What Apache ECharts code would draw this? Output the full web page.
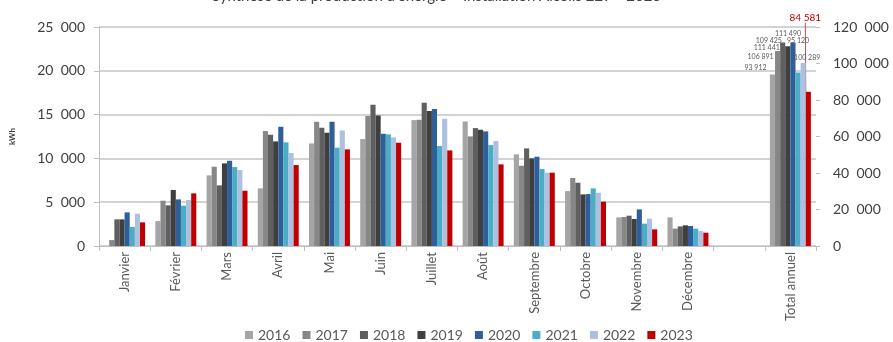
<!DOCTYPE html>
<html>
<head>
<meta charset="utf-8">
<script src="https://cdn.jsdelivr.net/npm/echarts@6/dist/echarts.min.js"></script>
<style>
  html, body { margin: 0; padding: 0; background: #ffffff; }
  #chart { width: 893px; height: 342px; }
</style>
</head>
<body>
<div id="chart"></div>
<script>
// Monthly production (kWh) per year, plus annual totals on the secondary axis
const categories = ['Janvier', 'Février', 'Mars', 'Avril', 'Mai', 'Juin', 'Juillet', 'Août',
  'Septembre', 'Octobre', 'Novembre', 'Décembre', '', 'Total annuel'];
const years = ['2016', '2017', '2018', '2019', '2020', '2021', '2022', '2023'];

const prod2016 = [null, 2850, 8060, 6580, 11710, 12210, 14370, 14220, 10460, 6270, 3270, 3270];
const prod2017 = [680, 5170, 9050, 13120, 14180, 14830, 14410, 12510, 9160, 7760, 3310, 1980];
const prod2018 = [3040, 4640, 6920, 12700, 13500, 16120, 16350, 13460, 11140, 7220, 3460, 2240];
const prod2019 = [3040, 6390, 9430, 11940, 12930, 14900, 15400, 13270, 10000, 5890, 3080, 2360];
const prod2020 = [3840, 5320, 9730, 13610, 14180, 12810, 15630, 13080, 10190, 5930, 4180, 2280];
const prod2021 = [2170, 4600, 9010, 11830, 11220, 12740, 11410, 11520, 8780, 6580, 2550, 1980];
const prod2022 = [3690, 5250, 8670, 10610, 13190, 12400, 14520, 11980, 8370, 6080, 3120, 1710];
const prod2023 = [2700, 6010, 6310, 9240, 11030, 11790, 10910, 9320, 8370, 5060, 1900, 1520];
const monthly = [prod2016, prod2017, prod2018, prod2019, prod2020, prod2021, prod2022, prod2023];

const annualTotals = [93912, 106891, 111441, 109425, 111490, 95120, 100289, 84581];

const leftTicks = { min: 0, max: 25000, interval: 5000 };
const rightTicks = { min: 0, max: 120000, interval: 20000 };

const colors = ['#a5a5a5', '#878787', '#5f5f5f', '#3f3f3f', '#2e5f9a', '#4bacc6', '#adc0e0', '#c00000'];
// Hand placement of the annual value labels (offset from the top of each bar)
const totalLabelOffsets = [[-17, 0], [-17, 12], [-16, 12], [-19, 1], [-5, -2], [0, -25], [4, 1], [0, 0]];

const FONT = 'Lato, "DejaVu Sans", sans-serif';
const fmt = v => String(Math.round(v)).replace(/\B(?=(\d{3})+(?!\d))/g, '\u00a0');

const series = [];
years.forEach((y, i) => {
  series.push({
    name: y,
    type: 'bar',
    xAxisIndex: 0,
    yAxisIndex: 0,
    barGap: '0%',
    barCategoryGap: '20%',
    itemStyle: { color: colors[i] },
    data: monthly[i].concat([null, null])
  });
});
years.forEach((y, i) => {
  const isLast = i === years.length - 1;
  const s = {
    name: y,
    type: 'bar',
    xAxisIndex: 1,
    yAxisIndex: 1,
    barGap: '0%',
    barCategoryGap: '20%',
    itemStyle: { color: colors[i] },
    data: new Array(categories.length - 1).fill(null).concat([annualTotals[i]]),
    label: {
      show: true,
      position: 'top',
      distance: 3,
      offset: totalLabelOffsets[i],
      formatter: p => fmt(p.value),
      fontFamily: FONT,
      fontSize: 7,
      color: '#595959'
    }
  };
  if (isLast) {
    s.label = {
      show: true,
      position: 'top',
      distance: 3,
      formatter: p => fmt(p.value),
      fontFamily: FONT,
      fontSize: 10,
      color: '#c00000'
    };
    s.labelLayout = { dy: -66, dx: -3 };
    s.labelLine = { show: true, lineStyle: { color: '#c0504d', width: 1 } };
  }
  series.push(s);
});

const chart = echarts.init(document.getElementById('chart'), null, { renderer: 'canvas' });
chart.setOption({
  animation: false,
  backgroundColor: '#ffffff',
  title: {
    text: 'Synthèse de la production d\u2019énergie \u2013 Installation Alcolis 22? \u2013 2023',
    left: 212,
    top: -11,
    padding: 0,
    textStyle: { fontFamily: FONT, fontSize: 15, fontWeight: 'normal', color: '#404040' }
  },
  legend: {
    data: years,
    left: 245,
    top: 328,
    padding: 0,
    itemWidth: 8,
    itemHeight: 8,
    itemGap: 12,
    icon: 'rect',
    textStyle: { fontFamily: FONT, fontSize: 14, color: '#595959' }
  },
  grid: { left: 96, right: 77, top: 27, bottom: 96 },
  xAxis: [
    {
      type: 'category',
      data: categories,
      axisLine: { lineStyle: { color: '#bfbfbf', width: 1 } },
      axisTick: { show: true, length: 5, lineStyle: { color: '#bfbfbf' } },
      axisLabel: {
        rotate: 90,
        interval: 0,
        margin: 6,
        fontFamily: FONT,
        fontSize: 13,
        color: '#595959'
      }
    },
    {
      type: 'category',
      data: categories,
      show: false
    }
  ],
  yAxis: [
    {
      type: 'value',
      min: leftTicks.min,
      max: leftTicks.max,
      interval: leftTicks.interval,
      name: 'kWh',
      nameLocation: 'middle',
      nameRotate: 90,
      nameGap: 83,
      nameTextStyle: { fontFamily: FONT, fontSize: 8, fontWeight: 'bold', color: '#404040' },
      axisLine: { show: true, lineStyle: { color: '#bfbfbf' } },
      axisTick: { show: true, length: 5, lineStyle: { color: '#bfbfbf' } },
      axisLabel: {
        margin: 14,
        fontFamily: FONT,
        fontSize: 14,
        color: '#404040',
        formatter: v => fmt(v).replace('\u00a0', '\u00a0\u00a0')
      },
      splitLine: { show: true, lineStyle: { color: '#c4c4c4', width: 1.5 } }
    },
    {
      type: 'value',
      position: 'right',
      min: rightTicks.min,
      max: rightTicks.max,
      interval: rightTicks.interval,
      axisLine: { show: false },
      axisTick: { show: true, length: 4, lineStyle: { color: '#bfbfbf' } },
      axisLabel: {
        margin: 17,
        fontFamily: FONT,
        fontSize: 14,
        color: '#404040',
        formatter: v => fmt(v).replace('\u00a0', '\u00a0\u00a0')
      },
      splitLine: { show: false }
    }
  ],
  series: series
});
</script>
</body>
</html>
